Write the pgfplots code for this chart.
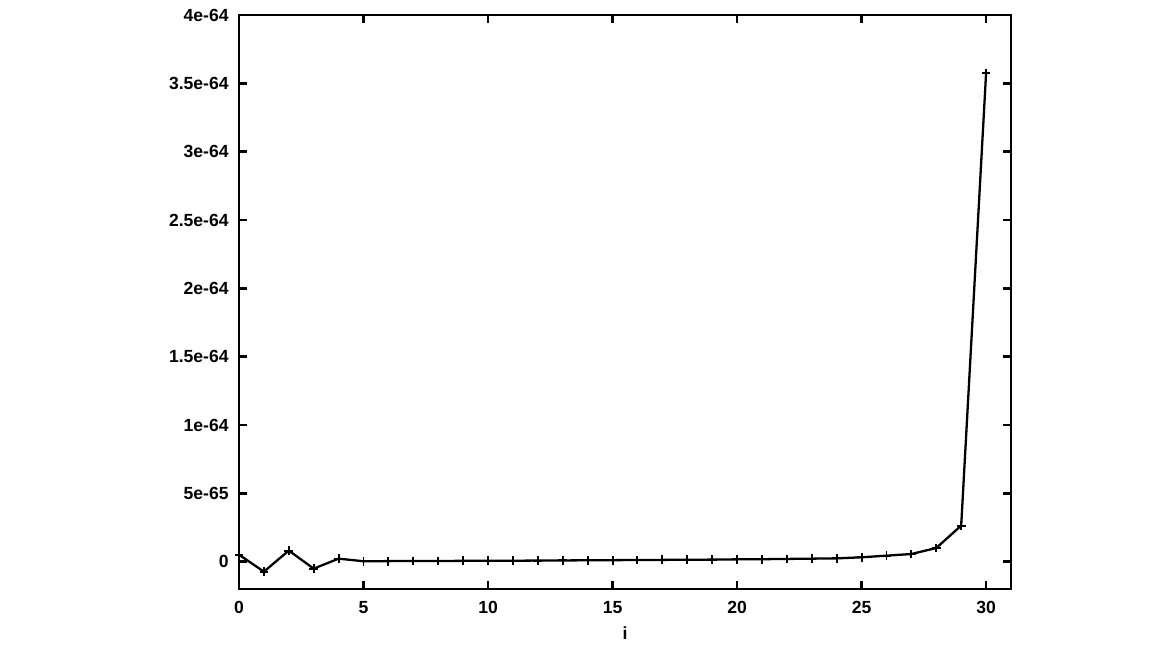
\documentclass[border=0pt]{standalone}
\usepackage{pgfplots}
\pgfplotsset{compat=1.18}
\usepackage{fontspec}
\setmainfont{Liberation Sans}
\begin{document}
\begin{tikzpicture}
\path[use as bounding box] (-4.78cm,-1.18cm) rectangle (18.74cm,11.78cm);
\begin{axis}[
  scale only axis,
  width=15.44cm, height=11.48cm,
  xmin=0, xmax=31,
  ymin=-2e-65, ymax=4e-64,
  axis line style={line width=1.6pt},
  tick style={line width=1.4pt, black},
  major tick length=0.16cm,
  tick align=inside,
  xtick={0,5,10,15,20,25,30},
  ytick={0,5e-65,1e-64,1.5e-64,2e-64,2.5e-64,3e-64,3.5e-64,4e-64},
  yticklabels={0,5e-65,1e-64,1.5e-64,2e-64,2.5e-64,3e-64,3.5e-64,4e-64},
  scaled y ticks=false,
  /pgf/number format/assume math mode=true,
  xticklabel style={font=\fontsize{10}{12}\selectfont\bfseries, anchor=north, yshift=-0.24cm, inner sep=0pt},
  yticklabel style={font=\fontsize{10}{12}\selectfont\bfseries, anchor=east, xshift=-0.2cm, inner sep=0pt},
  xlabel={i},
  xlabel style={font=\fontsize{10}{12}\selectfont\bfseries, at={(axis description cs:0.5,0)}, anchor=center, yshift=-0.88cm},
]
\addplot[black, line width=1.3pt, mark=+, mark size=2.5pt, mark options={line width=1.1pt}] table {
x y
0 5.1e-66
1 -7.3e-66
2 8.1e-66
3 -5.1e-66
4 2.2e-66
5 0.3e-66
6 0.4e-66
7 0.5e-66
8 0.5e-66
9 0.6e-66
10 0.6e-66
11 0.7e-66
12 0.8e-66
13 0.9e-66
14 1.0e-66
15 1.1e-66
16 1.2e-66
17 1.3e-66
18 1.4e-66
19 1.5e-66
20 1.7e-66
21 1.8e-66
22 2.0e-66
23 2.2e-66
24 2.4e-66
25 3.2e-66
26 4.4e-66
27 5.6e-66
28 1.0e-65
29 2.64e-65
30 3.575e-64
};
\end{axis}
\end{tikzpicture}
\end{document}
